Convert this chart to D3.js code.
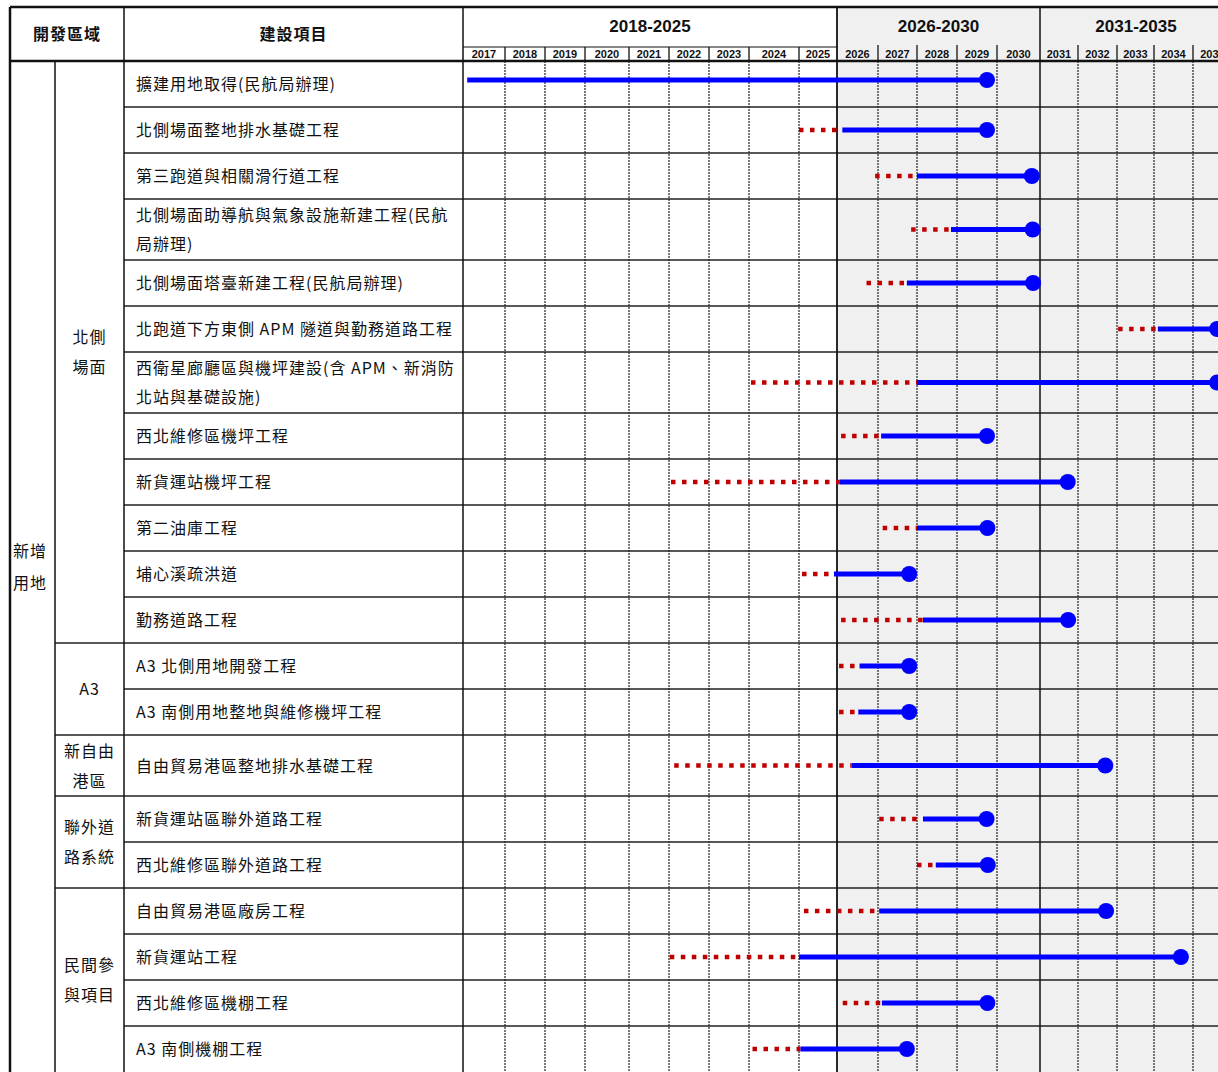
<!DOCTYPE html>
<html>
<head>
<meta charset="utf-8">
<script src="https://cdn.jsdelivr.net/npm/d3@7"></script>
<style>
    body { margin: 0; background: #fff; }
    svg text { font-family: "Noto Sans CJK TC", "Noto Sans", sans-serif; }
    .num { font-family: "Liberation Sans", Arial, sans-serif; font-weight: bold; }
</style>
</head>
<body>
<div id="gantt"></div>
<script>
// table data
var areaName = '新增\n用地';
var groupNames = ['北側\n場面', 'A3', '新自由\n港區', '聯外道\n路系統', '民間參\n與項目'];
var groupSizes = [12, 2, 1, 2, 4];
var items = [
    '擴建用地取得(民航局辦理)',
    '北側場面整地排水基礎工程',
    '第三跑道與相關滑行道工程',
    '北側場面助導航與氣象設施新建工程(民航\n局辦理)',
    '北側場面塔臺新建工程(民航局辦理)',
    '北跑道下方東側 APM 隧道與勤務道路工程',
    '西衛星廊廳區與機坪建設(含 APM、新消防\n北站與基礎設施)',
    '西北維修區機坪工程',
    '新貨運站機坪工程',
    '第二油庫工程',
    '埔心溪疏洪道',
    '勤務道路工程',
    'A3 北側用地開發工程',
    'A3 南側用地整地與維修機坪工程',
    '自由貿易港區整地排水基礎工程',
    '新貨運站區聯外道路工程',
    '西北維修區聯外道路工程',
    '自由貿易港區廠房工程',
    '新貨運站工程',
    '西北維修區機棚工程',
    'A3 南側機棚工程'
];
// red dotted = preparation, blue = construction (in fractional years)
var planStart  = [null, 2025.0, 2026.93, 2027.85, 2026.72, 2033.03, 2024.04, 2026.1, 2022.05, 2027.12, 2025.08,
                  2026.1, 2026.05, 2026.05, 2022.13, 2027.03, 2028.0, 2025.13, 2022.02, 2026.14, 2024.07];
var buildStart = [2017.1, 2026.13, 2028.0, 2028.85, 2027.74, 2034.1, 2028.0, 2027.08, 2026.07, 2028.0, 2025.92,
                  2028.15, 2026.55, 2026.52, 2026.36, 2028.15, 2028.47, 2027.03, 2025.0, 2027.1, 2025.04];
var buildEnd   = [2029.75, 2029.75, 2030.81, 2030.83, 2030.84, 2035.62, 2035.62, 2029.75, 2031.73, 2029.76, 2027.8,
                  2031.74, 2027.8, 2027.8, 2032.7, 2029.74, 2029.77, 2032.72, 2034.69, 2029.76, 2027.74];
var years = d3.range(2017, 2036);
var periodLabels = ['2018-2025', '2026-2030', '2031-2035'];
var periodBreaks = [2017, 2026, 2031, 2036];

// layout
var W = 1218, H = 1072;
var top0 = 7, headMid = 47, headBottom = 61;
var colA = 10, colB = 55, colC = 124, chartLeft = 463;
var colWidths = [42, 40, 40, 44, 40, 40, 40, 50, 38, 41, 39, 40, 40, 43, 38, 39, 37, 39, 39];
var lineH = 46, lineH2 = 61;

var svg = d3.select('#gantt').append('svg')
            .attr('width', W)
            .attr('height', H);

// piecewise year scale following the uneven column widths
var edges = years.concat([years[years.length - 1] + 1]);
var edgeX = [chartLeft].concat(Array.from(d3.cumsum(colWidths), function(v) { return chartLeft + v; }));
var x = d3.scaleLinear().domain(edges).range(edgeX);

// row heights: two-line item, or a two-line group that only holds one row
var groupOfRow = [];
groupSizes.forEach(function(n, g) { for (var i = 0; i < n; i++) groupOfRow.push(g); });
var rowH = items.map(function(t, i) {
    var g = groupOfRow[i];
    var twoLine = t.indexOf('\n') >= 0 || (groupSizes[g] === 1 && groupNames[g].indexOf('\n') >= 0);
    return twoLine ? lineH2 : lineH;
});
var rowTop = [headBottom].concat(Array.from(d3.cumsum(rowH), function(v) { return headBottom + v; }));
var bottom = rowTop[rowTop.length - 1];
var rowMid = function(i) { return (rowTop[i] + rowTop[i + 1]) / 2; };

// grey background for 2026+
svg.append('rect')
   .attr('x', x(2026)).attr('y', top0)
   .attr('width', W - x(2026)).attr('height', bottom - top0)
   .attr('fill', '#f0f0f0');

var lines = svg.append('g');
var line = function(x1, y1, x2, y2, w, dash, color) {
    lines.append('line')
         .attr('x1', x1).attr('y1', y1).attr('x2', x2).attr('y2', y2)
         .attr('stroke', color || '#111')
         .attr('stroke-width', w)
         .attr('stroke-dasharray', dash || null);
};

// year grid lines
years.slice(1).forEach(function(yr) {
    if (periodBreaks.indexOf(yr) >= 0) return;
    line(x(yr), headBottom, x(yr), bottom, 1.3, '2,1', '#333');
    line(x(yr), yr < 2026 ? headMid : headMid - 2, x(yr), headBottom, 1.3);
});
// row lines
rowTop.slice(1, -1).forEach(function(yv) { line(colC, yv, W, yv, 1.6, null, '#222'); });
// group lines
Array.from(d3.cumsum(groupSizes)).slice(0, -1).forEach(function(n) {
    line(colB, rowTop[n], colC, rowTop[n], 1.6, null, '#222');
});

// frame
line(colA, top0, W, top0, 2.5);
line(colA, headBottom, W, headBottom, 2.5);
line(colA, top0, colA, bottom, 2.5);
line(colB, headBottom, colB, bottom, 1.5);
line(colC, top0, colC, bottom, 1.5);
line(chartLeft, top0, chartLeft, bottom, 1.5);
line(x(2017), headMid, x(2026), headMid, 1.2);
line(x(2026), top0, x(2026), bottom, 1.8);
line(x(2031), top0, x(2031), bottom, 1.5);

// header text
var hdr = svg.append('g').attr('font-weight', 'bold').attr('font-size', 16).attr('fill', '#111');
hdr.append('text').attr('x', (colA + colC) / 2).attr('y', 40).attr('text-anchor', 'middle')
   .attr('letter-spacing', 1).text('開發區域');
hdr.append('text').attr('x', (colC + chartLeft) / 2).attr('y', 40).attr('text-anchor', 'middle')
   .attr('letter-spacing', 1).text('建設項目');

svg.append('g').selectAll('text')
   .data(periodLabels)
   .enter().append('text')
       .attr('class', 'num')
       .attr('x', function(d, i) { return (x(periodBreaks[i]) + x(periodBreaks[i + 1])) / 2; })
       .attr('y', 32)
       .attr('text-anchor', 'middle')
       .attr('font-size', 17)
       .attr('fill', '#111')
       .text(function(d) { return d; });

svg.append('g').selectAll('text')
   .data(years)
   .enter().append('text')
       .attr('class', 'num')
       .attr('x', function(d) { return (x(d) + x(d + 1)) / 2; })
       .attr('y', 58)
       .attr('text-anchor', 'middle')
       .attr('font-size', 11)
       .attr('fill', '#111')
       .text(function(d) { return d; });

// multi-line text helper
var multiText = function(g, str, tx, cy, anchor, gap) {
    var parts = str.split('\n');
    var t = g.append('text')
             .attr('x', tx)
             .attr('text-anchor', anchor)
             .attr('font-size', 16)
             .attr('letter-spacing', 1)
             .attr('fill', '#111');
    parts.forEach(function(p, k) {
        t.append('tspan')
         .attr('x', tx)
         .attr('y', cy + (k - (parts.length - 1) / 2) * gap + 6)
         .text(p);
    });
};

var labels = svg.append('g');
multiText(labels, areaName, 30, (headBottom + bottom) / 2, 'middle', 32);
var start = 0;
groupNames.forEach(function(name, g) {
    var cy = (rowTop[start] + rowTop[start + groupSizes[g]]) / 2;
    multiText(labels, name, (colB + colC) / 2, cy, 'middle', 30);
    start += groupSizes[g];
});
items.forEach(function(name, i) {
    multiText(labels, name, colC + 12, rowMid(i), 'start', 29);
});

// bars
var bars = svg.append('g');
items.forEach(function(name, i) {
    // first row sits a little above the middle in the source
    var cy = rowMid(i) - (i === 0 ? 4 : 0);
    if (planStart[i] !== null) {
        bars.append('line')
            .attr('x1', x(planStart[i])).attr('x2', x(buildStart[i]))
            .attr('y1', cy).attr('y2', cy)
            .attr('stroke', '#c00000')
            .attr('stroke-width', 4.5)
            .attr('stroke-dasharray', '4.5,6.5');
    }
    bars.append('line')
        .attr('x1', x(buildStart[i])).attr('x2', x(buildEnd[i]))
        .attr('y1', cy).attr('y2', cy)
        .attr('stroke', '#0000ff')
        .attr('stroke-width', 5);
    bars.append('circle')
        .attr('cx', x(buildEnd[i])).attr('cy', cy)
        .attr('r', 8)
        .attr('fill', '#0000ff');
});
</script>
</body>
</html>
